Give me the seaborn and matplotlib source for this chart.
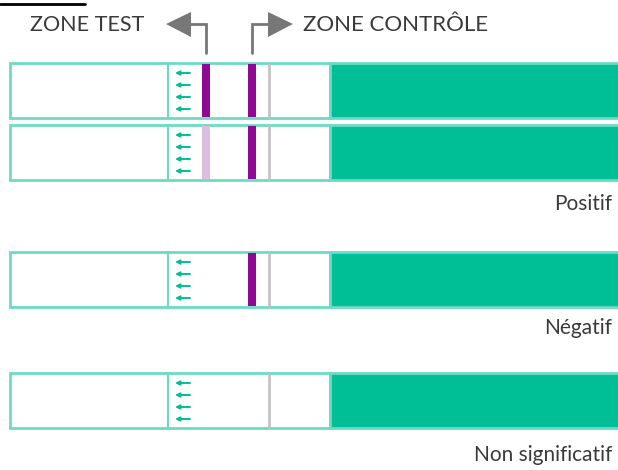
import matplotlib
matplotlib.use("Agg")
import matplotlib.pyplot as plt
from matplotlib.patches import Rectangle, Polygon
import seaborn as sns

# test strips, top to bottom
test_band = ["strong", "faint", "none", "none"]
control_band = [True, True, True, False]
result_labels = ["", "Positif", "Négatif", "Non significatif"]
zone_labels = ["ZONE TEST", "ZONE CONTRÔLE"]

band_colors = {"strong": "#8f0a93", "faint": "#dcbde0"}
teal = "#00bf97"
teal_edge = "#6bdcc4"
grey = "#777777"
text_col = "#3a3a3a"

sns.set_theme(style="white")
plt.rcParams["font.family"] = ["Lato", "DejaVu Sans"]

fig = plt.figure(figsize=(6.18, 4.70), dpi=100)
ax = fig.add_axes([0, 0, 1, 1])
ax.set_xlim(0, 618)
ax.set_ylim(470, 0)
ax.axis("off")

# header
ax.plot([0, 85], [4, 4], color="black", lw=2)
ax.text(30, 25, zone_labels[0], fontsize=15.5, color=text_col, va="center", ha="left")
ax.text(303, 25, zone_labels[1], fontsize=16, color=text_col, va="center", ha="left")
# left arrow
ax.plot([206, 206, 190], [53, 24, 24], color=grey, lw=2, solid_joinstyle="miter")
ax.add_patch(Polygon([[166, 24], [191, 12], [191, 37]], color=grey, lw=0))
# right arrow
ax.plot([252, 252, 268], [53, 24, 24], color=grey, lw=2, solid_joinstyle="miter")
ax.add_patch(Polygon([[293, 24], [268, 12], [268, 37]], color=grey, lw=0))

tops = [63, 125, 252, 373]
label_gap = [0, 24, 21, 27]
h = 55
for i, top in enumerate(tops):
    # white window + teal handle
    ax.add_patch(Rectangle((10, top), 320, h, facecolor="white", edgecolor=teal_edge, lw=2))
    ax.add_patch(Rectangle((330, top), 300, h, facecolor=teal, edgecolor=teal_edge, lw=2))
    ax.plot([168, 168], [top, top + h], color=teal_edge, lw=1.5)
    # flow arrows
    for dy in [10, 22, 34, 46]:
        ax.annotate("", xy=(175, top + dy), xytext=(190, top + dy),
                    arrowprops=dict(arrowstyle="-|>", color=teal, lw=1.4,
                                    mutation_scale=6, shrinkA=0, shrinkB=0))
    if test_band[i] != "none":
        ax.add_patch(Rectangle((202, top + 1), 8, h - 2, color=band_colors[test_band[i]], lw=0))
    if control_band[i]:
        ax.add_patch(Rectangle((248, top + 1), 8, h - 2, color=band_colors["strong"], lw=0))
    ax.plot([269, 269], [top + 1, top + h - 1], color="#c4c4c4", lw=2)
    if result_labels[i]:
        ax.text(612, top + h + label_gap[i], result_labels[i], fontsize=15,
                color=text_col, ha="right", va="center")

fig.savefig("out.png", dpi=100)
